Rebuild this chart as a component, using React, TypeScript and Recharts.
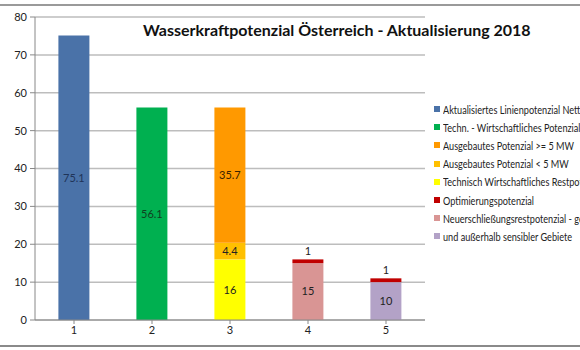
import React from 'react';
import { BarChart, Bar, XAxis, YAxis, CartesianGrid, LabelList } from 'recharts';

// Kategorien 1..5
const categories = ['1', '2', '3', '4', '5'];

// Werte je Serie (TWh), null = kein Balken in dieser Kategorie
const linienNetto = [75.1, null, null, null, null];
const technWirtschaftlich = [null, 56.1, null, null, null];
const restpotenzial = [null, null, 16, null, null];
const ausgebautKlein = [null, null, 4.4, null, null];
const ausgebautGross = [null, null, 35.7, null, null];
const neuerschliessung = [null, null, null, 15, null];
const sensibel = [null, null, null, null, 10];
const optimierung = [null, null, null, 1, 1];

const yTicks = [0, 10, 20, 30, 40, 50, 60, 70, 80];

// Stapelreihenfolge von unten nach oben
const series = [
    { key: 'linienNetto', values: linienNetto, color: '#4a72a8', labelColor: '#1f3458', label: 'center' },
    { key: 'technWirtschaftlich', values: technWirtschaftlich, color: '#00b050', labelColor: '#10401f', label: 'center' },
    { key: 'restpotenzial', values: restpotenzial, color: '#ffff00', labelColor: '#222', label: 'center' },
    { key: 'ausgebautKlein', values: ausgebautKlein, color: '#ffc000', labelColor: '#222', label: 'center' },
    { key: 'ausgebautGross', values: ausgebautGross, color: '#ff9900', labelColor: '#3a2400', label: 'center' },
    { key: 'neuerschliessung', values: neuerschliessung, color: '#d99594', labelColor: '#222', label: 'center' },
    { key: 'sensibel', values: sensibel, color: '#b3a2c7', labelColor: '#222', label: 'center' },
    { key: 'optimierung', values: optimierung, color: '#c00000', labelColor: '#222', label: 'top' },
];

// Legende in der Reihenfolge des Originals (rechts abgeschnitten wie im Original)
const legendItems = [
    { name: 'Aktualisiertes Linienpotenzial Netto', color: '#4a72a8' },
    { name: 'Techn. - Wirtschaftliches Potenzial', color: '#00b050' },
    { name: 'Ausgebautes Potenzial >= 5 MW', color: '#ff9900' },
    { name: 'Ausgebautes Potenzial < 5 MW', color: '#ffc000' },
    { name: 'Technisch Wirtschaftliches Restpotenzial', color: '#ffff00' },
    { name: 'Optimierungspotenzial', color: '#c00000' },
    { name: 'Neuerschließungsrestpotenzial - gesamt', color: '#d99594' },
    { name: 'und außerhalb sensibler Gebiete', color: '#b3a2c7' },
];

const data = categories.map((cat, i) => {
    const row: { [key: string]: string | number | null } = { name: cat };
    series.forEach((s) => {
        row[s.key] = s.values[i];
    });
    return row;
});

const font = 'Lato, "Open Sans", sans-serif';

export default function App() {
    return (
        <div style={{ position: 'absolute', left: 0, top: 0, width: 580, height: 350, overflow: 'hidden', background: '#fff', fontFamily: font }}>
            <div style={{ position: 'absolute', left: 0, top: 4, width: 580, height: 2, background: '#9a9a9a' }} />
            <div style={{ position: 'absolute', left: 0, top: 345, width: 580, height: 2, background: '#8a8a8a' }} />
            <BarChart
                width={580}
                height={350}
                data={data}
                margin={{ top: 17, right: 155, bottom: 5, left: 0 }}
                barCategoryGap="30%"
            >
                <CartesianGrid vertical={false} stroke="#bdbdbd" strokeWidth={1.5} />
                <XAxis
                    dataKey="name"
                    height={25}
                    stroke="#888"
                    tickSize={4}
                    tick={{ fill: '#222', fontSize: 11, fontFamily: font }}
                    tickLine={{ stroke: '#888' }}
                    interval={0}
                />
                <YAxis
                    width={35}
                    domain={[0, 80]}
                    ticks={yTicks}
                    stroke="#888"
                    tickSize={5}
                    tickMargin={3}
                    tick={{ fill: '#222', fontSize: 11, fontFamily: font }}
                    interval={0}
                />
                {series.map((s) => (
                    <Bar key={s.key} dataKey={s.key} stackId="a" fill={s.color} isAnimationActive={false}>
                        <LabelList
                            dataKey={s.key}
                            position={s.label as 'center' | 'top'}
                            fill={s.labelColor}
                            fontSize={11}
                            fontFamily={font}
                            offset={4}
                        />
                    </Bar>
                ))}
            </BarChart>
            <div style={{ position: 'absolute', left: 143, top: 20, fontSize: 16, fontWeight: 700, color: '#111', whiteSpace: 'nowrap', background: '#fff' }}>
                Wasserkraftpotenzial Österreich - Aktualisierung 2018
            </div>
            <div style={{ position: 'absolute', left: 434, top: 100 }}>
                {legendItems.map((item) => (
                    <div key={item.name} style={{ display: 'flex', alignItems: 'center', height: 18.2, fontSize: 11, color: '#222', whiteSpace: 'nowrap' }}>
                        <span style={{ display: 'inline-block', width: 6, height: 6, background: item.color, marginRight: 3, flexShrink: 0 }} />
                        <span style={{ display: 'inline-block', transform: 'scaleX(0.83)', transformOrigin: 'left center' }}>{item.name}</span>
                    </div>
                ))}
            </div>
        </div>
    );
}
